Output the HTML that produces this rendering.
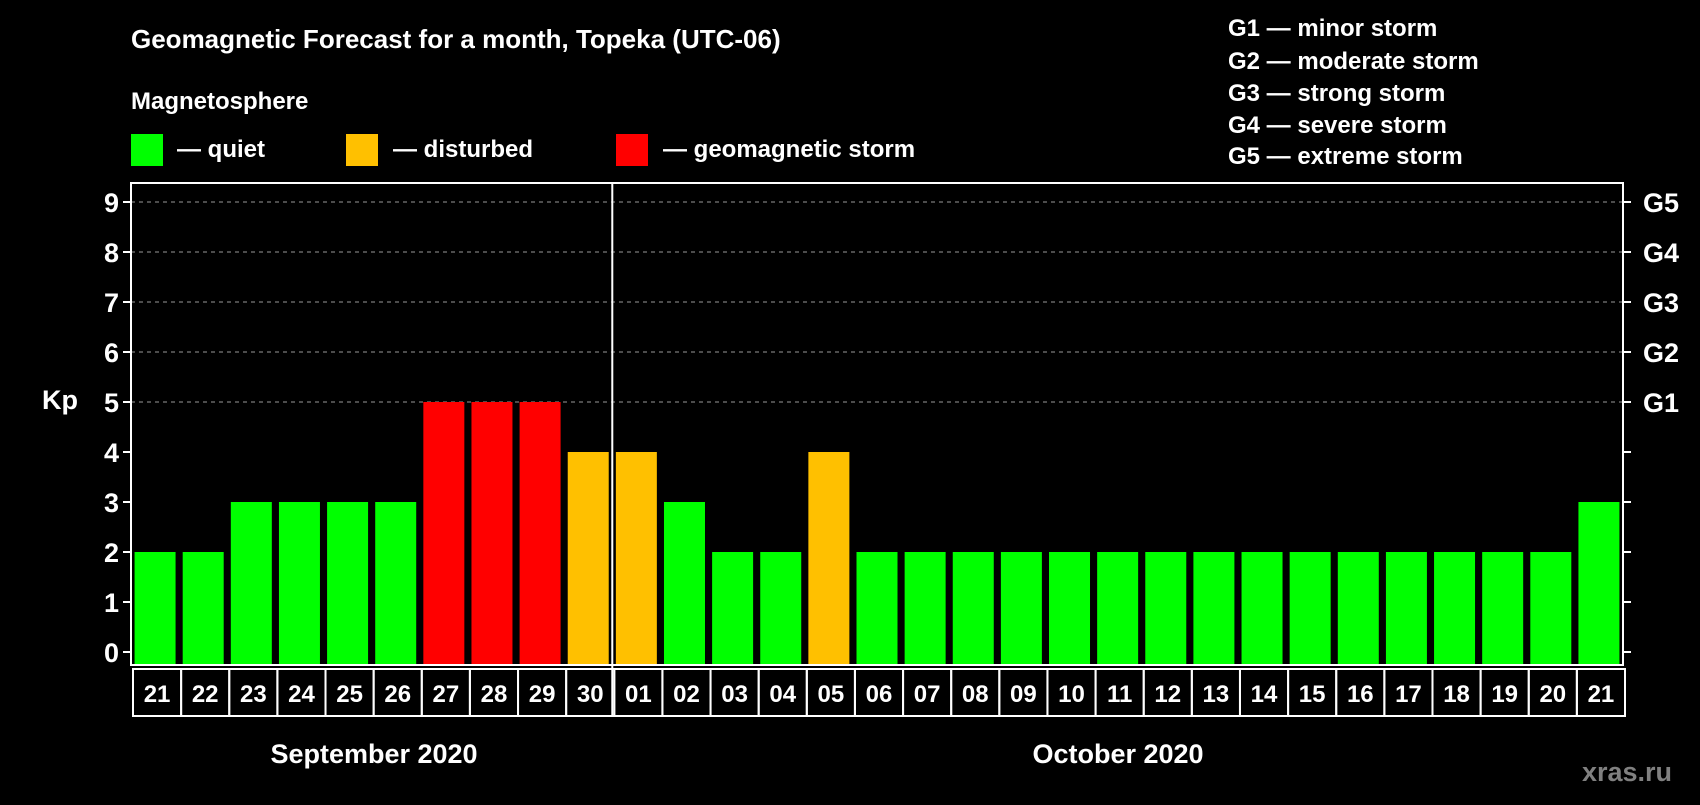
<!DOCTYPE html>
<html><head><meta charset="utf-8"><style>
body{margin:0;background:#000;width:1700px;height:800px;overflow:hidden}
svg text{font-family:"Liberation Sans",Arial,sans-serif;font-weight:bold;fill:#fff}
</style></head><body>
<svg id="chart" width="1700" height="800" xmlns="http://www.w3.org/2000/svg">
<rect width="1700" height="800" fill="#000"/>
<text x="131" y="48" font-size="26">Geomagnetic Forecast for a month, Topeka (UTC-06)</text>
<text x="131" y="109" font-size="24">Magnetosphere</text>
<rect x="131" y="134" width="32" height="32" fill="#00ff00"/>
<text x="177" y="157" font-size="24">— quiet</text>
<rect x="346" y="134" width="32" height="32" fill="#ffc000"/>
<text x="393" y="157" font-size="24">— disturbed</text>
<rect x="616" y="134" width="32" height="32" fill="#ff0000"/>
<text x="663" y="157" font-size="24">— geomagnetic storm</text>
<g font-size="24">
<text x="1228" y="36">G1 — minor storm</text>
<text x="1228" y="69">G2 — moderate storm</text>
<text x="1228" y="101">G3 — strong storm</text>
<text x="1228" y="133">G4 — severe storm</text>
<text x="1228" y="164">G5 — extreme storm</text>
</g>
<text x="42" y="409" font-size="27">Kp</text>
<g id="grid"></g><g id="bars"></g><g id="axes"></g>
<text x="374" y="763" font-size="27" text-anchor="middle">September 2020</text>
<text x="1118" y="763" font-size="27" text-anchor="middle">October 2020</text>
<text x="1627" y="781" font-size="27" text-anchor="middle" style="fill:#808080">xras.ru</text>
</svg>
<script>
const days=["21","22","23","24","25","26","27","28","29","30","01","02","03","04","05","06","07","08","09","10","11","12","13","14","15","16","17","18","19","20","21"];
const kp=[2,2,3,3,3,3,5,5,5,4,4,3,2,2,4,2,2,2,2,2,2,2,2,2,2,2,2,2,2,2,3];
const yTicks=[0,1,2,3,4,5,6,7,8,9];
const gLabels=[[5,"G1"],[6,"G2"],[7,"G3"],[8,"G4"],[9,"G5"]];
const NS="http://www.w3.org/2000/svg";
const L=131,R=1623,T=183,B=665,Y0=652,UNIT=50;
const step=(R-L)/days.length;
const y=v=>Y0-v*UNIT;
const xc=i=>L+step*(i+0.5);
function mk(tag,attrs,parent){const e=document.createElementNS(NS,tag);for(const k in attrs)e.setAttribute(k,attrs[k]);document.getElementById(parent).appendChild(e);return e;}
yTicks.forEach(v=>{
  if(v>=5){const g=mk('line',{x1:L,x2:R,y1:y(v),y2:y(v),stroke:'#999','stroke-dasharray':'4,4','stroke-width':1},'grid');
  
  }
  const t1=mk('line',{x1:L-8,x2:L,y1:y(v),y2:y(v),stroke:'#fff','stroke-width':2},'axes');
  
  
  const t2=mk('line',{x1:R,x2:R+8,y1:y(v),y2:y(v),stroke:'#fff','stroke-width':2},'axes');
  
  
  const tl=mk('text',{x:L-12,y:y(v)+10,'font-size':27,'text-anchor':'end'},'axes');
  tl.textContent=v;
  
  
});
gLabels.forEach(([v,g])=>{
  const t=mk('text',{x:R+20,y:y(v)+10,'font-size':27},'axes');
  t.textContent=g;
  
  
});
kp.forEach((v,i)=>{
  const col=v>=5?'#ff0000':(v>=4?'#ffc000':'#00ff00');
  const b=mk('rect',{x:xc(i)-20.5,y:y(v),width:41,height:B-y(v),fill:col},'bars');
  
  
  const c=mk('rect',{x:L+step*i+2,y:B+4,width:step,height:47,fill:'none',stroke:'#fff','stroke-width':2},'axes');
  
  
  const t=mk('text',{x:xc(i)+2,y:B+37,'font-size':24,'text-anchor':'middle'},'axes');
  t.textContent=days[i];
  
  
});
const f=mk('rect',{x:L,y:T,width:R-L,height:B-T,fill:'none',stroke:'#fff','stroke-width':2},'axes');


const d=mk('line',{x1:L+step*10,x2:L+step*10,y1:T,y2:B+51,stroke:'#fff','stroke-width':2},'axes');


</script>
</body></html>
